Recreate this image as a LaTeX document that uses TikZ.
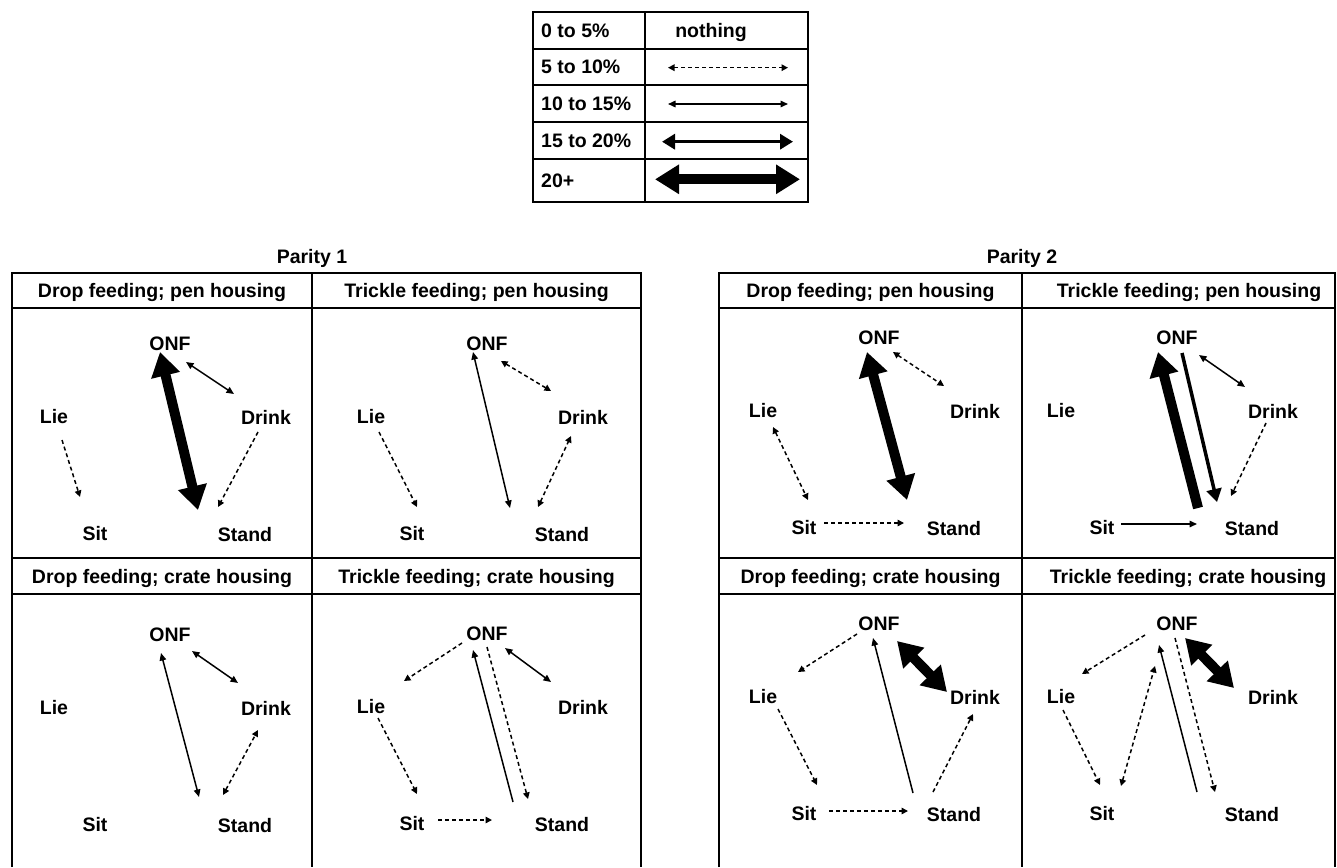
\documentclass[tikz,border=0pt]{standalone}
\usepackage{fontspec}
\setmainfont{Liberation Sans}
\usetikzlibrary{arrows.meta,calc}

\begin{document}
\begin{tikzpicture}[x=1pt, y=-1pt,
  lbl/.style={font=\fontsize{19.5}{22}\selectfont\bfseries, inner sep=0pt, text height=14pt, text depth=0pt},
  tabline/.style={line width=2pt},
  pfive/.style={line width=1.5pt, dash pattern=on 4pt off 3pt, >={Triangle[length=6.5pt,width=6.5pt]}},
  pten/.style={line width=1.5pt, >={Triangle[length=7.5pt,width=6.5pt]}},
  pfifteen/.style={line width=3.5pt, >={Triangle[length=13pt,width=15pt]}},
  ptwenty/.style={line width=10pt, >={Triangle[length=24pt,width=28pt]}}]

\path[use as bounding box, fill=white] (0,0) rectangle (1337,867);

% Legend
\draw[tabline] (533,12) rectangle (808,202);
\foreach \y in {49,85,122,159} \draw[tabline] (533,\y) -- (808,\y);
\draw[tabline] (645,12) -- (645,202);

\node[lbl, anchor=west] (leg1) at (541,30.5) {0 to 5\%};
\node[lbl, anchor=west] (leg2) at (541,67) {5 to 10\%};
\node[lbl, anchor=west] (leg3) at (541,103.5) {10 to 15\%};
\node[lbl, anchor=west] (leg4) at (541,140.5) {15 to 20\%};
\node[lbl, anchor=west] (leg5) at (541,180) {20+};
\node[lbl] (nothing) at (711,30.5) {nothing};

\foreach \r/\y/\sty/\xa/\xb in {2/67.7/pfive/668/788, 3/104/pten/668/788, 4/141.7/pfifteen/662/793, 5/179.3/ptwenty/655/800}
{
  \coordinate (leg\r-w) at (\xa,\y);
  \coordinate (leg\r-e) at (\xb,\y);
  \draw[\sty,<->] (leg\r-w) -- (leg\r-e);
}

% Tables
\node[lbl] (par1) at (312,256) {Parity 1};
\node[lbl] (par2) at (1022,256) {Parity 2};

\draw[tabline] (12,867) |- (641,273) -- (641,867);
\draw[tabline] (719,867) |- (1335,273) -- (1335,867);
\draw[tabline] (312,273) -- (312,867);
\draw[tabline] (1022,273) -- (1022,867);
\foreach \y in {308,558,594}
{
  \draw[tabline] (12,\y) -- (641,\y);
  \draw[tabline] (719,\y) -- (1335,\y);
}

\node[lbl] (a-head) at (162,290.5) {Drop feeding; pen housing};
\node[lbl] (b-head) at (476.5,290.5) {Trickle feeding; pen housing};
\node[lbl] (c-head) at (162,576) {Drop feeding; crate housing};
\node[lbl] (d-head) at (476.5,576) {Trickle feeding; crate housing};
\node[lbl] (e-head) at (870.5,290.5) {Drop feeding; pen housing};
\node[lbl] (f-head) at (1189,290.5) {Trickle feeding; pen housing};
\node[lbl] (g-head) at (870.5,576) {Drop feeding; crate housing};
\node[lbl] (h-head) at (1188,576) {Trickle feeding; crate housing};

% Behaviour nodes, one set per panel
\foreach \p/\x/\y in {a/170/343, b/487/343, c/170/634, d/487/633, e/879/337, f/1177/337, g/879/623, h/1177/623}
{
  \node[lbl] (\p-onf) at (\x,\y) {ONF};
  \node[lbl] (\p-lie) at (\x-116,\y+73) {Lie};
  \node[lbl] (\p-drink) at (\x+96,\y+74) {Drink};
  \node[lbl] (\p-sit) at (\x-75,\y+190) {Sit};
  \node[lbl] (\p-stand) at (\x+75,\y+191) {Stand};
}

% Parity 1, drop / pen
\draw[ptwenty,<->] ($(a-onf)+(-10,9)$) -- ($(a-stand)+(-47,-24)$);
\draw[pten,<->] ($(a-onf)+(16,19)$) -- ($(a-drink)+(-32,-23)$);
\draw[pfive,->] ($(a-lie)+(8,24)$) -- ($(a-sit)+(-15,-36)$);
\draw[pfive,->] ($(a-drink)+(-8,15)$) -- ($(a-stand)+(-27,-27)$);

% Parity 1, trickle / pen
\draw[pten,<->] ($(b-onf)+(-14,9)$) -- ($(b-stand)+(-52,-26)$);
\draw[pfive,<->] ($(b-onf)+(14,18)$) -- ($(b-drink)+(-32,-26)$);
\draw[pfive,->] ($(b-lie)+(8,16)$) -- ($(b-sit)+(5,-26)$);
\draw[pfive,<->] ($(b-stand)+(-24,-27)$) -- ($(b-drink)+(-12,19)$);

% Parity 1, drop / crate
\draw[pten,<->] ($(c-onf)+(-9,19)$) -- ($(c-stand)+(-46,-28)$);
\draw[pten,<->] ($(c-onf)+(22,17)$) -- ($(c-drink)+(-28,-25)$);
\draw[pfive,<->] ($(c-stand)+(-22,-30)$) -- ($(c-drink)+(-8,22)$);

% Parity 1, trickle / crate
\draw[pfive,->] ($(d-onf)+(-25,10)$) -- ($(d-lie)+(33,-25)$);
\draw[pten,->] ($(d-stand)+(-49,-22)$) -- ($(d-onf)+(-14,17)$);
\draw[pfive,->] ($(d-onf)+(0,14)$) -- ($(d-stand)+(-34,-25)$);
\draw[pten,<->] ($(d-onf)+(18,15)$) -- ($(d-drink)+(-32,-25)$);
\draw[pfive,->] ($(d-lie)+(7,12)$) -- ($(d-sit)+(5,-29)$);
\draw[pfive,->] ($(d-sit)+(26,-3)$) -- ($(d-stand)+(-70,-4)$);

% Parity 2, drop / pen
\draw[ptwenty,<->] ($(e-onf)+(-12,15)$) -- ($(e-stand)+(-47,-28)$);
\draw[pfive,<->] ($(e-onf)+(14,15)$) -- ($(e-drink)+(-31,-25)$);
\draw[pfive,<->] ($(e-lie)+(10,17)$) -- ($(e-sit)+(4,-27)$);
\draw[pfive,->] ($(e-sit)+(20,-4)$) -- ($(e-stand)+(-50,-5)$);

% Parity 2, trickle / pen
\draw[ptwenty,->] ($(f-stand)+(-54,-20)$) -- ($(f-onf)+(-19,15)$);
\draw[pfifteen,->] ($(f-onf)+(5,16)$) -- ($(f-stand)+(-35,-26)$);
\draw[pten,<->] ($(f-onf)+(22,18)$) -- ($(f-drink)+(-28,-24)$);
\draw[pfive,->] ($(f-drink)+(-7,12)$) -- ($(f-stand)+(-21,-32)$);
\draw[pten,->] ($(f-sit)+(19,-3)$) -- ($(f-stand)+(-55,-4)$);

% Parity 2, drop / crate
\draw[pfive,->] ($(g-onf)+(-22,11)$) -- ($(g-lie)+(35,-24)$);
\draw[pten,->] ($(g-stand)+(-41,-21)$) -- ($(g-onf)+(-6,15)$);
\draw[ptwenty,<->] ($(g-onf)+(18,18)$) -- ($(g-drink)+(-28,-5)$);
\draw[pfive,->] ($(g-lie)+(15,13)$) -- ($(g-sit)+(13,-28)$);
\draw[pfive,->] ($(g-sit)+(25,-2)$) -- ($(g-stand)+(-46,-3)$);
\draw[pfive,->] ($(g-stand)+(-21,-22)$) -- ($(g-drink)+(-2,17)$);

% Parity 2, trickle / crate
\draw[pfive,->] ($(h-onf)+(-32,12)$) -- ($(h-lie)+(21,-22)$);
\draw[pfive,<->] ($(h-sit)+(19,-27)$) -- ($(h-onf)+(-22,43)$);
\draw[pten,->] ($(h-stand)+(-55,-22)$) -- ($(h-onf)+(-18,22)$);
\draw[pfive,->] ($(h-onf)+(-2,15)$) -- ($(h-stand)+(-37,-22)$);
\draw[ptwenty,<->] ($(h-onf)+(8,15)$) -- ($(h-drink)+(-39,-9)$);
\draw[pfive,->] ($(h-lie)+(2,14)$) -- ($(h-sit)+(-2,-28)$);

\end{tikzpicture}
\end{document}
